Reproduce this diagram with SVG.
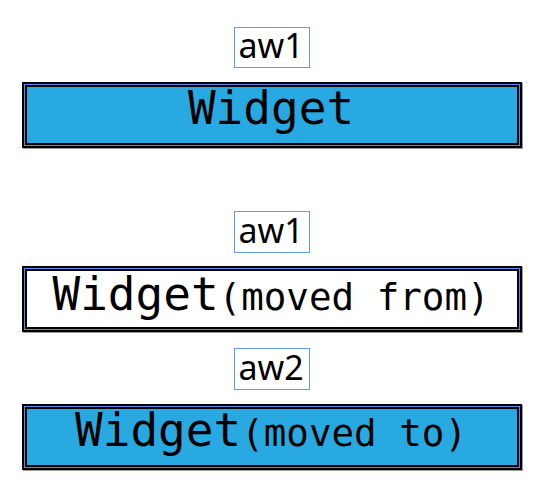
<svg xmlns="http://www.w3.org/2000/svg" width="547" height="489" viewBox="0 0 547 489">
<style>
.lbl{fill:#fff;stroke:#5e9cf2;stroke-width:1}
.lt{font-family:"Noto Sans",sans-serif;font-size:34px;fill:#000;text-anchor:middle}
.outer{fill:#000}
.shadow{fill:#9a9a9a}
.blue{fill:none;stroke:#4f8ff7;stroke-width:1}
.wt{font-family:"DejaVu Sans Mono",monospace;font-size:46px;fill:#000;text-anchor:middle}
.sm{font-size:37.5px}
</style>
<rect width="547" height="489" fill="#fff"/>
<g id="label1">
<rect class="lbl" x="234.5" y="27.5" width="75" height="40"/>
<text class="lt" x="271" y="58">aw1</text>
</g>
<g id="widget1">
<rect class="shadow" x="23" y="83" width="500" height="66"/>
<rect class="outer" x="22" y="82" width="500" height="66"/>
<rect class="blue" x="24.5" y="84.5" width="495" height="61"/>
<rect x="27" y="87" width="490" height="56" fill="#29a9e1"/>
<text class="wt" x="271" y="124">Widget</text>
</g>
<g id="label2">
<rect class="lbl" x="234.5" y="211.5" width="75" height="41"/>
<text class="lt" x="271" y="243">aw1</text>
</g>
<g id="widget2">
<rect class="shadow" x="23" y="267" width="500" height="66"/>
<rect class="outer" x="22" y="266" width="500" height="66"/>
<rect class="blue" x="24.5" y="268.5" width="495" height="61"/>
<rect x="27" y="271" width="490" height="56" fill="#fff"/>
<text class="wt" x="271" y="310">Widget<tspan class="sm">(moved from)</tspan></text>
</g>
<g id="label3">
<rect class="lbl" x="234.5" y="348.5" width="75" height="41"/>
<text class="lt" x="271" y="380">aw2</text>
</g>
<g id="widget3">
<rect class="shadow" x="23" y="405" width="500" height="66"/>
<rect class="outer" x="22" y="404" width="500" height="66"/>
<rect class="blue" x="24.5" y="406.5" width="495" height="61"/>
<rect x="27" y="409" width="490" height="56" fill="#29a9e1"/>
<text class="wt" x="271" y="446">Widget<tspan class="sm">(moved to)</tspan></text>
</g>
<g id="connectors"/>
</svg>
